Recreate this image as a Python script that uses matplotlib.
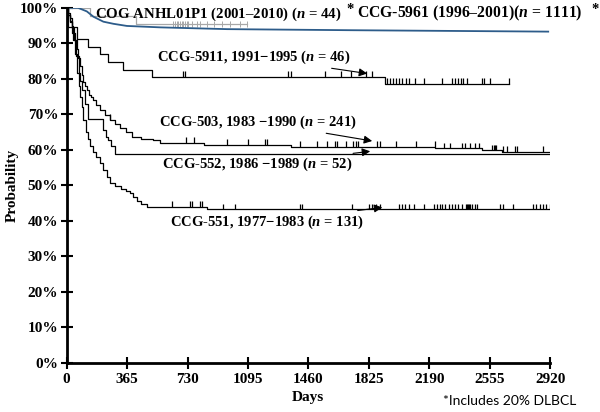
import numpy as np
import matplotlib.pyplot as plt

plt.rcParams['font.family'] = ['Liberation Serif', 'DejaVu Serif']
plt.rcParams['font.weight'] = 'bold'
plt.rcParams['mathtext.fontset'] = 'custom'
plt.rcParams['mathtext.it'] = 'Liberation Serif:italic:bold'
plt.rcParams['mathtext.rm'] = 'Liberation Serif:bold'

# ---- data (days, survival %) ----
t_5961 = [0, 69, 122, 162, 222, 283, 364, 565, 968, 1712, 2908]
s_5961 = [100, 100, 99, 97.5, 96.1, 95.5, 94.9, 94.5, 94.0, 93.7, 93.3]

t_cog = [0, 142, 420]
s_cog = [100, 97.7, 95.5]
end_cog = 1090
cens_cog = [645, 655, 666, 675, 686, 696, 705, 716, 726, 736, 756, 786, 806,
            847, 887, 937, 988, 1048, 1088]

t_5911 = [0, 8, 63, 130, 202, 251, 341, 516, 1924]
s_5911 = [100, 94.5, 91.3, 89.1, 87.0, 84.8, 82.6, 80.6, 78.6]
end_5911 = 2672
cens_5911 = [702, 716, 1338, 1354, 1561, 1656, 1717, 1809, 1843, 1936, 1954,
             1972, 1990, 2008, 2027, 2049, 2069, 2105, 2159, 2266, 2328, 2346,
             2365, 2383, 2395, 2417, 2508, 2522, 2558, 2672]

t_503 = [0, 10, 20, 30, 40, 51, 60, 70, 82, 92, 102, 112, 122, 135, 148, 162,
         180, 202, 230, 263, 290, 323, 360, 394, 450, 524, 565, 827, 1353,
         2226, 2510, 2630]
s_503 = [100, 98.5, 97, 95, 93, 91, 88.5, 86, 83.5, 81, 79, 78, 76.9, 75.5,
         74.8, 74.1, 72.5, 71.3, 69.8, 68.5, 67.2, 66.1, 65, 63.7, 63.2, 62.8,
         61.9, 61.4, 60.9, 60.4, 59.9, 59.4]
end_503 = 2920
cens_503 = [263, 722, 770, 968, 1098, 1199, 1209, 1410, 1511, 1572, 1622, 1632,
            1688, 1732, 1749, 1762, 1874, 1894, 1990, 2111, 2224, 2280, 2314,
            2387, 2407, 2435, 2467, 2490, 2570, 2578, 2586, 2594, 2636, 2657,
            2709, 2719, 2876]

t_552 = [0, 10, 20, 30, 45, 55, 72, 82, 92, 110, 132, 222, 237, 252, 270, 293]
s_552 = [100, 98, 96.2, 94.2, 91, 86.5, 81.6, 79.5, 76.9, 73, 68.6, 65.6, 63.5,
         62.8, 61, 58.9]
end_552 = 2920

t_551 = [0, 10, 20, 30, 41, 50, 62, 72, 82, 92, 101, 115, 128, 142, 160, 180,
         202, 222, 243, 263, 290, 330, 360, 384, 400, 424, 450, 484, 850]
s_551 = [100, 98, 96, 93, 91, 87, 81.6, 78, 75, 72, 68.5, 65, 63, 61, 59.5, 58,
         56.3, 54.4, 52.5, 50.6, 49.7, 49, 48.3, 47.8, 46.8, 45.5, 44.7, 44.0,
         43.3]
end_551 = 2920
cens_551 = [635, 746, 756, 805, 815, 943, 1018, 1410, 1420, 1722, 1826, 1846,
            1866, 1892, 2007, 2027, 2046, 2068, 2098, 2159, 2220, 2236, 2252,
            2266, 2286, 2306, 2327, 2346, 2366, 2387, 2413, 2420, 2425, 2431,
            2437, 2447, 2467, 2481, 2614, 2638, 2695, 2816, 2836, 2856, 2876,
            2896, 2916]

x_ticks = [0, 365, 730, 1095, 1460, 1825, 2190, 2555, 2920]
y_ticks = [0, 10, 20, 30, 40, 50, 60, 70, 80, 90, 100]


def km(ax, t, s, end, cens=None, color='black', lw=0.9, up=1.6, sym=False):
    tt = list(t) + [end]
    ss = list(s) + [s[-1]]
    ax.step(tt, ss, where='post', color=color, lw=lw)
    if cens:
        # survival level at each censor time (step, post)
        idx = np.searchsorted(tt, cens, side='right') - 1
        lev = np.array(ss)[idx]
        if sym:
            ax.vlines(cens, lev - up, lev + up, color=color, lw=0.7)
        else:
            ax.vlines(cens, lev, lev + up, color=color, lw=0.9)


fig = plt.figure(figsize=(6, 4.12), dpi=100)
ax = fig.add_axes([0.111, 0.119, 0.806, 0.862])

km(ax, t_cog, s_cog, end_cog, cens_cog, color='#a8a8a8', lw=0.9, up=0.9, sym=True)
ax.plot(t_5961, s_5961, color='#2d5c8a', lw=1.3)
km(ax, t_5911, s_5911, end_5911, cens_5911)
km(ax, t_503, s_503, end_503, cens_503)
km(ax, t_552, s_552, end_552)
km(ax, t_551, s_551, end_551, cens_551)

ax.set_xlim(0, 2920)
ax.set_ylim(0, 100)
ax.set_xticks(x_ticks)
ax.set_xticklabels([str(v) for v in x_ticks])
ax.set_yticks(y_ticks)
ax.set_yticklabels([f'{v}%' for v in y_ticks])
for sp in ['top', 'right']:
    ax.spines[sp].set_visible(False)
for sp in ['left', 'bottom']:
    ax.spines[sp].set_linewidth(2)
ax.tick_params(axis='both', direction='inout', length=8, width=1.5,
               labelsize=11)
ax.tick_params(axis='x', pad=3)
ax.tick_params(axis='y', pad=2)
ax.set_xlabel('Days', fontsize=11, fontweight='bold', labelpad=4)
ax.set_ylabel('Probability', fontsize=11, fontweight='bold', labelpad=1)

fs = 10.5
ax.text(172, 98.3, 'COG ANHL01P1 (2001–2010) ($n$ = 44)', fontsize=10.7,
        va='center', clip_on=False)
ax.text(1690, 99.6, '*', fontsize=fs, va='center', clip_on=False)
ax.text(1755, 98.3, 'CCG-5961 (1996–2001)($n$ = 1111)', fontsize=11.3,
        va='center', clip_on=False)
ax.text(3170, 99.6, '*', fontsize=fs, va='center', clip_on=False)

arrow = dict(arrowstyle='-|>', color='black', lw=0.8, mutation_scale=12,
             shrinkA=0, shrinkB=0)
ax.annotate('CCG-5911, 1991−1995 ($n$ = 46)', xy=(1815, 81.5),
            xytext=(547, 86.2), fontsize=fs, va='center', arrowprops=arrow)
ax.annotate('CCG-503, 1983 −1990 ($n$ = 241)', xy=(1845, 62.5),
            xytext=(560, 67.9), fontsize=fs, va='center', arrowprops=arrow)
ax.annotate('CCG-552, 1986 −1989 ($n$ = 52)', xy=(1833, 59.6),
            xytext=(577, 55.8), fontsize=fs, va='center', arrowprops=arrow)
ax.annotate('CCG-551, 1977−1983 ($n$ = 131)', xy=(1906, 43.8),
            xytext=(625, 39.7), fontsize=fs, va='center', arrowprops=arrow)

fig.text(0.738, 0.026, '*Includes 20% DLBCL', fontsize=10, va='center',
         family='Lato', fontweight='normal')

fig.savefig('out.png', dpi=100)
